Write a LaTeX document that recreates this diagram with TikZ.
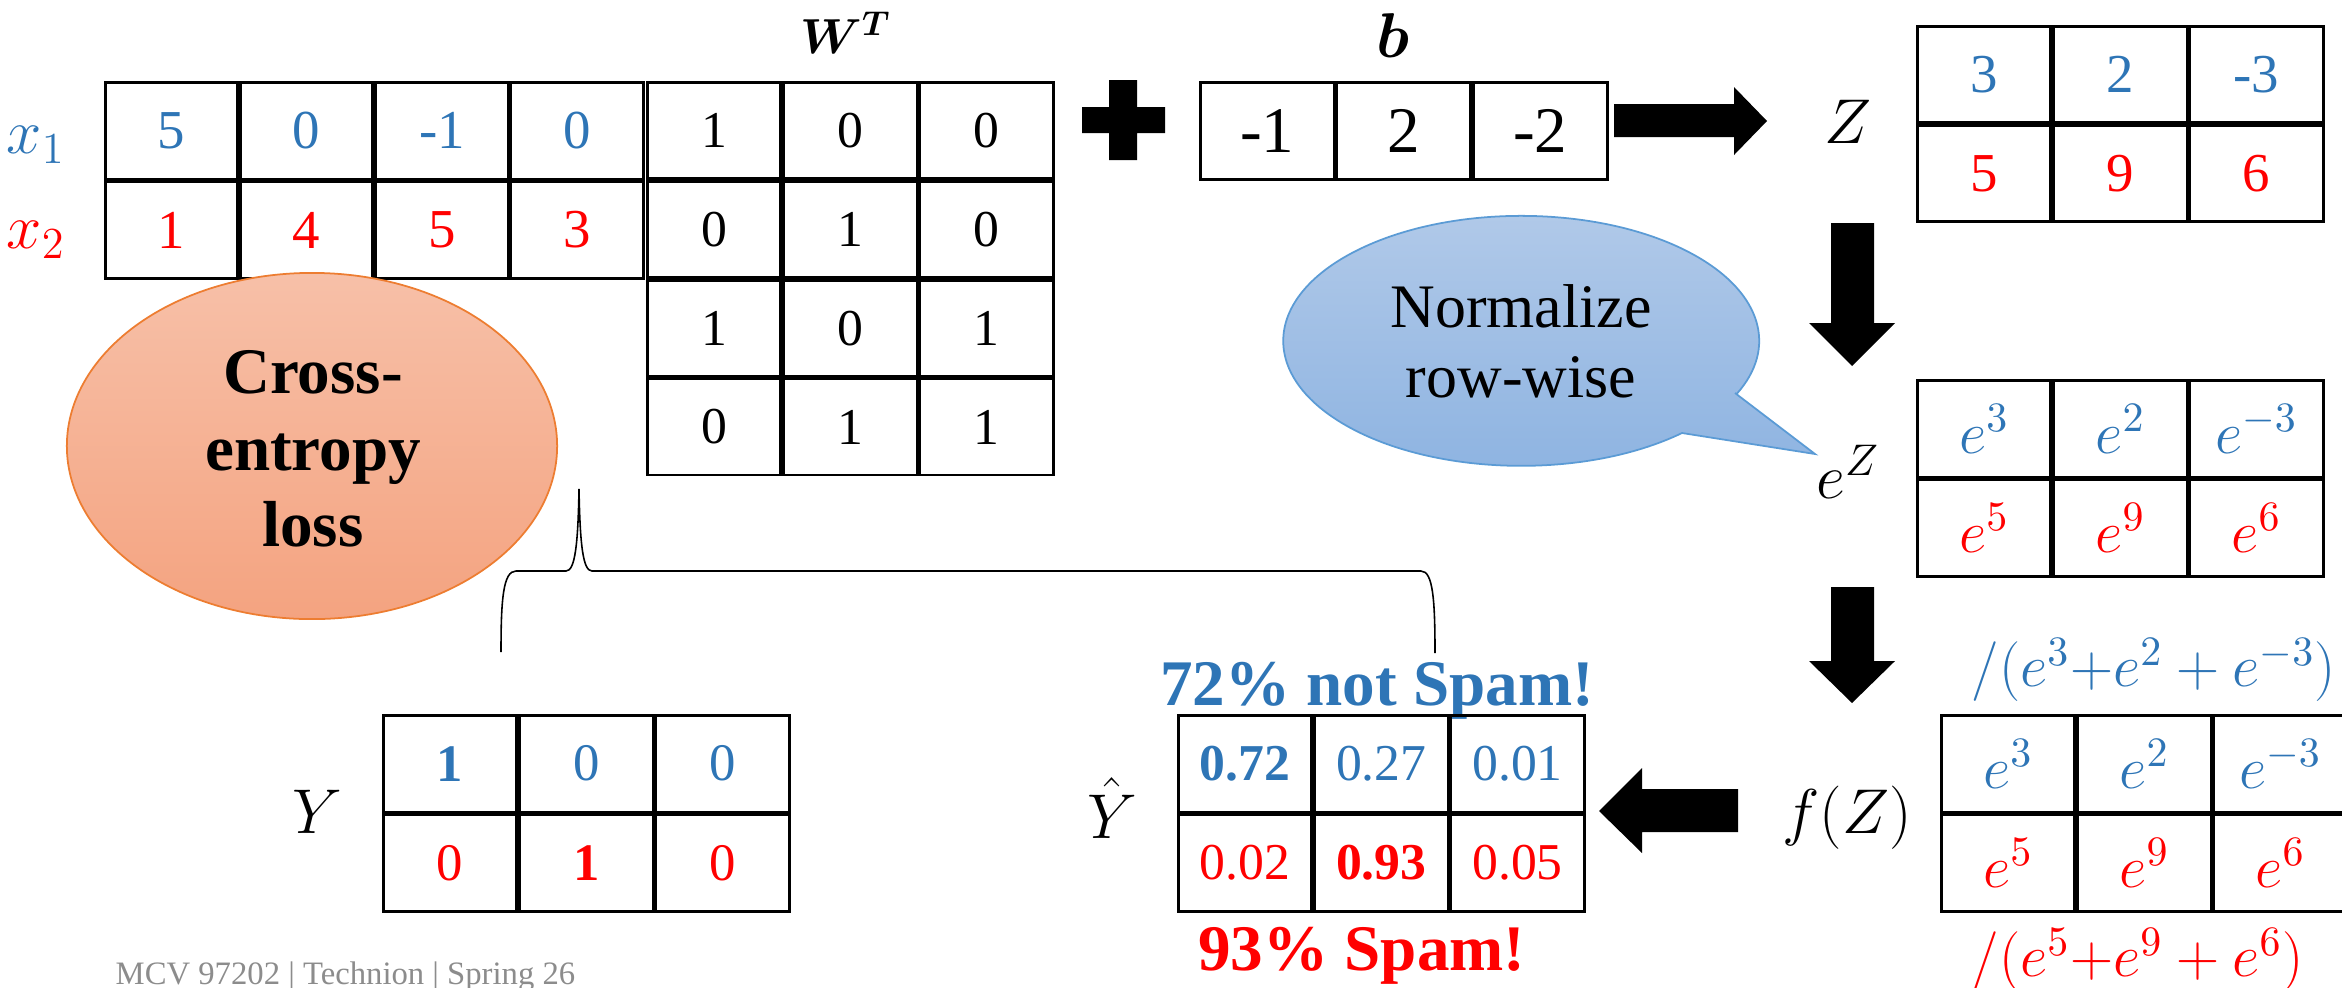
\RequirePackage{fix-cm}
\documentclass[tikz,border=0pt]{standalone}
\usepackage{fontspec}
\setmainfont{Liberation Serif}
\usepackage{bm}
\usetikzlibrary{matrix,shapes.geometric}

\definecolor{cblue}{RGB}{46,117,182}
\definecolor{cred}{RGB}{255,0,0}
\definecolor{ceTop}{RGB}{247,192,168}
\definecolor{ceBot}{RGB}{244,163,128}
\definecolor{ceEdge}{RGB}{237,125,49}
\definecolor{bubTop}{RGB}{178,202,233}
\definecolor{bubBot}{RGB}{141,179,225}
\definecolor{bubEdge}{RGB}{91,155,213}
\definecolor{footgray}{RGB}{140,140,140}

\tikzset{
  tbl/.style={matrix of nodes, inner sep=0pt, outer sep=0pt,
    column sep=0pt, row sep=0pt,
    nodes={draw=black, line width=0.8pt, minimum width=1.333cm,
      minimum height=0.965cm, inner sep=0pt, outer sep=0pt, anchor=center}},
  mathlbl/.style={inner sep=0pt, font=\fontsize{18}{21}\selectfont},
  blockarrow/.style={fill=black, draw=none},
  note/.style={inner sep=0pt, anchor=base}
}

\newcommand{\bl}[1]{\textcolor{cblue}{#1}}
\newcommand{\rd}[1]{\textcolor{cred}{#1}}

\begin{document}
\begin{tikzpicture}[x=0.01cm, y=-0.01cm]
\useasboundingbox (0,0) rectangle (2342,987);

% ---------- input X ----------
\node[mathlbl, text=cblue] (x1) at (36,145) {$x_1$};
\node[mathlbl, text=cred]  (x2) at (36,240) {$x_2$};
\matrix (X) [tbl, anchor=north west,
  nodes={minimum width=1.3225cm, font=\fontsize{15.6}{18}\selectfont}] at (104,81) {
  \bl{5} & \bl{0} & \bl{-1} & \bl{0} \\
  \rd{1} & \rd{4} & \rd{5}  & \rd{3} \\
};

% ---------- weights W^T ----------
\node[inner sep=0pt, font=\fontsize{14}{16}\selectfont] (WTlbl) at (846,33) {$\bm{W}^{\bm{T}}$};
\matrix (W) [tbl, anchor=north west,
  nodes={minimum height=0.96cm, font=\fontsize{14.7}{17}\selectfont}] at (646,81) {
  1 & 0 & 0 \\
  0 & 1 & 0 \\
  1 & 0 & 1 \\
  0 & 1 & 1 \\
};

% ---------- plus sign ----------
\fill[black] (1109,80) -- (1137,80) -- (1137,107) -- (1165,107) -- (1165,133)
  -- (1137,133) -- (1137,160) -- (1109,160) -- (1109,133) -- (1082,133)
  -- (1082,107) -- (1109,107) -- cycle;

% ---------- bias b ----------
\node[inner sep=0pt, font=\fontsize{18}{21}\selectfont] (blbl) at (1393,36) {$\bm{b}$};
\matrix (B) [tbl, anchor=north west,
  nodes={minimum width=1.3367cm, minimum height=0.97cm, font=\fontsize{18.5}{21}\selectfont}] at (1199,81) {
  -1 & 2 & -2 \\
};

% ---------- arrow to Z ----------
\fill[blockarrow] (1614,104) -- (1734,104) -- (1734,87) -- (1767,121)
  -- (1734,155) -- (1734,137) -- (1614,137) -- cycle;

% ---------- Z ----------
\node[mathlbl] (Zlbl) at (1848,122) {$Z$};
\matrix (Z) [tbl, anchor=north west,
  nodes={minimum height=0.96cm, font=\fontsize{15.6}{18}\selectfont}] at (1916,25) {
  \bl{3} & \bl{2} & \bl{-3} \\
  \rd{5} & \rd{9} & \rd{6}  \\
};

% ---------- arrow Z -> e^Z ----------
\fill[blockarrow] (1831,223) -- (1874,223) -- (1874,323) -- (1895,323)
  -- (1852,366) -- (1809,323) -- (1831,323) -- cycle;

% ---------- speech bubble ----------
\path[draw=bubEdge, line width=0.5pt, top color=bubTop, bottom color=bubBot]
  (1735,393) -- (1815,454) -- (1682,433)
  arc[start angle=47.5, end angle=385.2, x radius=238, y radius=125] -- cycle;
\node[align=center, inner sep=0pt, font=\fontsize{17.6}{20}\selectfont] (norm) at (1521,341)
  {Normalize\\row-wise};

% ---------- e^Z ----------
\node[mathlbl] (eZlbl) at (1848,472) {$e^{Z}$};
\matrix (EZ) [tbl, anchor=north west,
  nodes={font=\fontsize{17}{20}\selectfont}] at (1916,379) {
  \bl{$e^{3}$} & \bl{$e^{2}$} & \bl{$e^{-3}$} \\
  \rd{$e^{5}$} & \rd{$e^{9}$} & \rd{$e^{6}$}  \\
};

% ---------- arrow e^Z -> f(Z) ----------
\fill[blockarrow] (1831,587) -- (1874,587) -- (1874,661) -- (1895,661)
  -- (1852,703) -- (1809,661) -- (1831,661) -- cycle;

% ---------- f(Z) ----------
\node[inner sep=0pt, anchor=west, text=cblue, font=\fontsize{17}{20}\selectfont] (den1) at (1971,670)
  {$/(e^{3}{+}e^{2}+e^{-3})$};
\node[mathlbl] (fZlbl) at (1847,818) {$f(Z)$};
\matrix (FZ) [tbl, anchor=north west,
  nodes={font=\fontsize{17}{20}\selectfont}] at (1940,714) {
  \bl{$e^{3}$} & \bl{$e^{2}$} & \bl{$e^{-3}$} \\
  \rd{$e^{5}$} & \rd{$e^{9}$} & \rd{$e^{6}$}  \\
};
\node[inner sep=0pt, anchor=west, text=cred, font=\fontsize{17}{20}\selectfont] (den2) at (1971,960)
  {$/(e^{5}{+}e^{9}+e^{6})$};

% ---------- arrow f(Z) -> Y hat ----------
\fill[blockarrow] (1738,789) -- (1642,789) -- (1642,768) -- (1599,811)
  -- (1642,853) -- (1642,832) -- (1738,832) -- cycle;

% ---------- prediction Y hat ----------
\node[note, text=cblue, font=\bfseries\fontsize{18.5}{22}\selectfont] (notspam) at (1377,705) {72\% not Spam!};
\node[mathlbl] (Yhlbl) at (1112,808) {$\hat{Y}$};
\matrix (YH) [tbl, anchor=north west,
  nodes={font=\fontsize{14.7}{17}\selectfont}] at (1177,714) {
  \bl{\textbf{0.72}} & \bl{0.27} & \bl{0.01} \\
  \rd{0.02} & \rd{\textbf{0.93}} & \rd{0.05} \\
};
\node[note, text=cred, font=\bfseries\fontsize{18.5}{22}\selectfont] (spam) at (1362,970) {93\% Spam!};

% ---------- labels Y ----------
\node[mathlbl] (Ylbl) at (317,812) {$Y$};
\matrix (Y) [tbl, anchor=north west,
  nodes={font=\fontsize{15}{18}\selectfont}] at (382,714) {
  \bl{\textbf{1}} & \bl{0} & \bl{0} \\
  \rd{0} & \rd{\textbf{1}} & \rd{0} \\
};

% ---------- cross-entropy ----------
\node[ellipse, draw=ceEdge, line width=0.5pt, top color=ceTop, bottom color=ceBot,
  minimum width=4.9cm, minimum height=3.46cm, inner sep=0pt] (ce) at (312,446) {};
\node[align=center, inner sep=0pt, font=\bfseries\fontsize{18.5}{21.7}\selectfont] (cetext) at (313,449)
  {Cross-\\entropy\\loss};

% brace joining Y and Y hat to the loss
\coordinate (brL) at (501,652);
\coordinate (brT) at (579,489);
\coordinate (brR) at (1435,653);
\draw[line width=0.45pt] (brL) .. controls (501,600) and (503,571) .. (516,571)
  -- (566,571) .. controls (575,571) and (578,545) .. (brT)
  .. controls (580,545) and (583,571) .. (592,571)
  -- (1421,571) .. controls (1433,571) and (1435,600) .. (brR);

% ---------- footer ----------
\node[inner sep=0pt, anchor=base west, text=footgray, font=\fontsize{9.3}{11}\selectfont] (foot) at (115,984)
  {MCV 97202 | Technion | Spring 26};
\end{tikzpicture}
\end{document}
